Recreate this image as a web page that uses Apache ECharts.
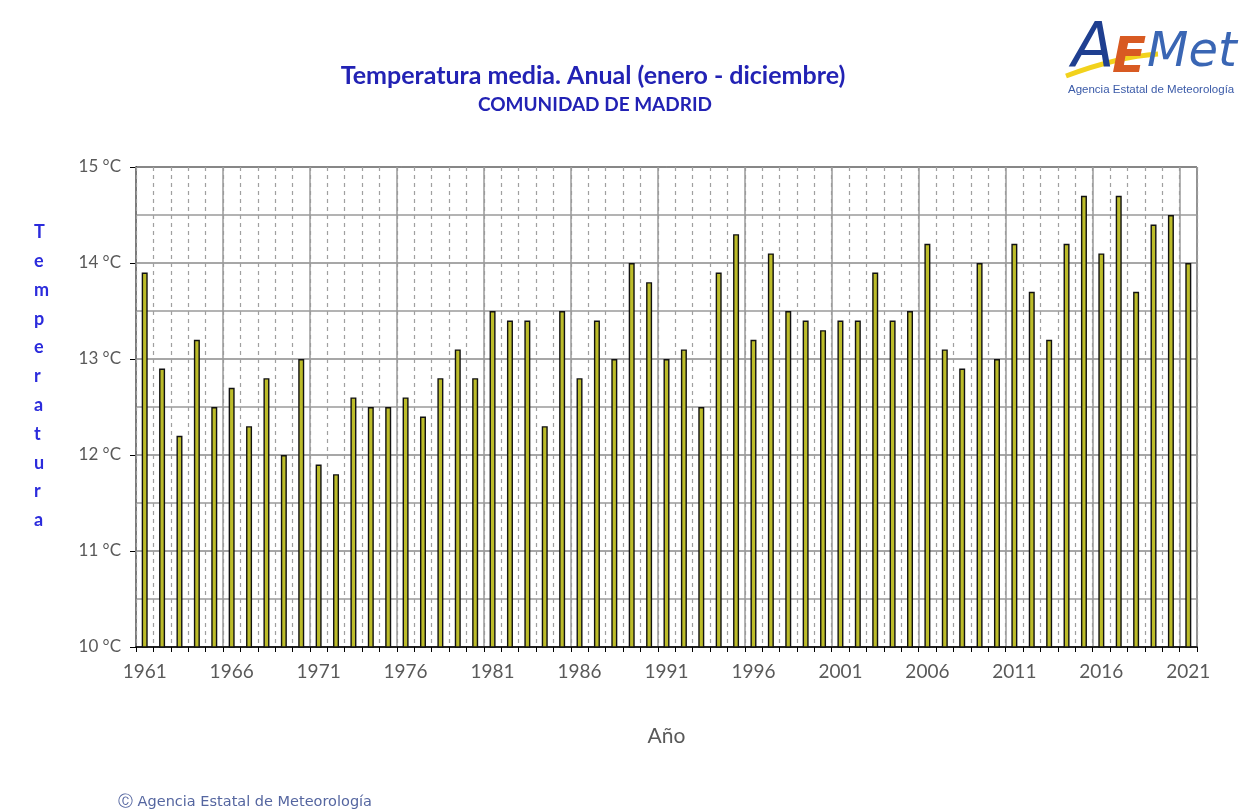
<!DOCTYPE html>
<html>
<head>
<meta charset="utf-8">
<script src="https://cdn.jsdelivr.net/npm/echarts@6/dist/echarts.min.js"></script>
<style>
html,body{margin:0;padding:0;background:#fff;}
#chart{width:1247px;height:812px;}
</style>
</head>
<body>
<div id="chart"></div>
<script>
var years = [];
for (var y = 1961; y <= 2021; y++) years.push(String(y));

var temperatures = [
  13.9, 12.9, 12.2, 13.2, 12.5, 12.7, 12.3, 12.8, 12.0, 13.0,
  11.9, 11.8, 12.6, 12.5, 12.5, 12.6, 12.4, 12.8, 13.1, 12.8,
  13.5, 13.4, 13.4, 12.3, 13.5, 12.8, 13.4, 13.0, 14.0, 13.8,
  13.0, 13.1, 12.5, 13.9, 14.3, 13.2, 14.1, 13.5, 13.4, 13.3,
  13.4, 13.4, 13.9, 13.4, 13.5, 14.2, 13.1, 12.9, 14.0, 13.0,
  14.2, 13.7, 13.2, 14.2, 14.7, 14.1, 14.7, 13.7, 14.4, 14.5,
  14.0
];

var yTicks = [10, 11, 12, 13, 14, 15];

var FONT = 'Lato';
var chart = echarts.init(document.getElementById('chart'));
chart.setOption({
  backgroundColor: '#ffffff',
  animation: false,
  title: [{
    text: 'Temperatura media. Anual (enero - diciembre)',
    left: 588, top: 58, textAlign: 'center',
    textStyle: {color: '#2222b4', fontFamily: FONT, fontWeight: 'bold', fontSize: 25}
  }, {
    text: 'COMUNIDAD DE MADRID',
    left: 590, top: 90, textAlign: 'center',
    textStyle: {color: '#2222b4', fontFamily: FONT, fontWeight: 'bold', fontSize: 19}
  }],
  grid: {left: 136, right: 50, top: 167, bottom: 165, show: true, borderColor: '#000', borderWidth: 1, backgroundColor: 'transparent'},
  xAxis: [{
    type: 'category',
    data: years,
    boundaryGap: true,
    name: 'Año',
    nameLocation: 'middle',
    nameGap: 79,
    nameTextStyle: {color: '#595959', fontFamily: FONT, fontSize: 21},
    axisLine: {lineStyle: {color: '#000', width: 1.5}},
    axisTick: {show: true, interval: 0, length: 5, lineStyle: {color: '#000'}},
    axisLabel: {interval: 4, color: '#595959', fontFamily: FONT, fontSize: 19, margin: 15},
    splitLine: {show: true, interval: 4, lineStyle: {color: '#9a9a9a', width: 1.5}},
    z: 3
  }, {
    type: 'category',
    data: years,
    boundaryGap: true,
    position: 'bottom',
    axisLine: {show: false},
    axisTick: {show: false},
    axisLabel: {show: false},
    splitLine: {show: true, interval: 0, lineStyle: {color: '#a0a0a0', width: 1.2, type: [4, 4]}},
    z: 1
  }],
  yAxis: {
    type: 'value',
    min: 10, max: 15, interval: 1,
    axisLine: {show: true, lineStyle: {color: '#000', width: 1.5}},
    axisTick: {show: true, length: 6, lineStyle: {color: '#000'}},
    axisLabel: {color: '#595959', fontFamily: FONT, fontSize: 17, margin: 15,
      formatter: function (v) { return yTicks.indexOf(v) >= 0 ? v + ' °C' : ''; }},
    splitLine: {show: true, lineStyle: {color: '#8a8a8a', width: 1.5}},
    minorTick: {show: false, splitNumber: 2},
    minorSplitLine: {show: true, lineStyle: {color: '#9a9a9a', width: 1.5}}
  },
  series: [{
    type: 'bar',
    data: temperatures,
    xAxisIndex: 0,
    barWidth: 6,
    itemStyle: {color: '#bcbc2a', borderColor: '#111', borderWidth: 1.4},
    z: 5
  }],
  graphic: [
    {type: 'text', left: 34, top: 218,
      style: {text: 'T\ne\nm\np\ne\nr\na\nt\nu\nr\na', fill: '#2b2bdc', font: 'bold 18px Lato', lineHeight: 28.8, align: 'center'}},
    {type: 'text', left: 118, top: 795,
      style: {text: 'Ⓒ Agencia Estatal de Meteorología', fill: '#5566a0', font: '14.5px "DejaVu Sans"'}},
    // logo
    {type: 'bezierCurve', shape: {x1: 1066, y1: 76, x2: 1158, y2: 54, cpx1: 1098, cpy1: 64, cpx2: 1128, cpy2: 56},
      style: {stroke: '#f2d21c', lineWidth: 5, fill: null}},
    {type: 'text', left: 1072, top: 20,
      style: {text: 'A', fill: '#1f3f90', font: 'italic 62px "DejaVu Sans"'}},
    {type: 'text', left: 1112, top: 34,
      style: {text: 'E', fill: '#d85a22', font: 'italic bold 50px "DejaVu Sans"'}},
    {type: 'text', left: 1147, top: 30,
      style: {text: 'Met', fill: '#3a66b4', font: 'italic 48px "DejaVu Sans"'}},
    {type: 'text', left: 1068, top: 84,
      style: {text: 'Agencia Estatal de Meteorología', fill: '#3a5aa8', font: '11.5px "Liberation Sans Narrow", "Liberation Sans"'}}
  ]
});
</script>
</body>
</html>
